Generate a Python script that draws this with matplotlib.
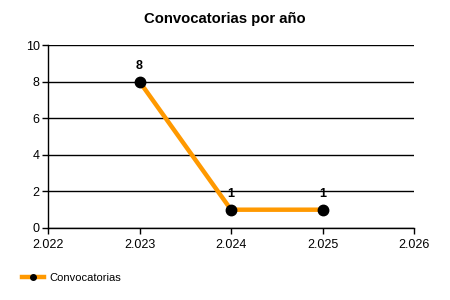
import matplotlib
matplotlib.use("Agg")
import matplotlib.pyplot as plt
from matplotlib.lines import Line2D

plt.rcParams['font.family'] = ['Liberation Sans', 'DejaVu Sans']

years = [2023, 2024, 2025]
values = [8, 1, 1]
x_ticks = [2022, 2023, 2024, 2025, 2026]
x_tick_labels = ["2.022", "2.023", "2.024", "2.025", "2.026"]
y_ticks = [0, 2, 4, 6, 8, 10]
title = "Convocatorias por año"
series_name = "Convocatorias"

fig = plt.figure(figsize=(4.5, 3), dpi=100)
ax = fig.add_axes([48/450, 1-228/300, (414-48)/450, (228-45)/300])

orange = "#FF9900"
ax.plot(years, values, color=orange, lw=3.2, solid_capstyle='butt', zorder=3)
ax.plot(years, values, 'o', color='black', ms=7.5, zorder=4)
for x, y in zip(years, values):
    ax.annotate(str(y), (x, y), xytext=(0, 7), textcoords='offset points',
                ha='center', va='bottom', fontsize=9, fontweight='bold')

ax.set_xlim(2022, 2026)
ax.set_ylim(0, 10)
ax.set_xticks(x_ticks)
ax.set_xticklabels(x_tick_labels)
ax.set_yticks(y_ticks)
ax.yaxis.grid(True, color='black', lw=1)
ax.set_axisbelow(True)
for s in ['top', 'right']:
    ax.spines[s].set_visible(False)
for s in ['left', 'bottom']:
    ax.spines[s].set_linewidth(1)
ax.tick_params(axis='both', labelsize=9, length=4, width=1, pad=2)
ax.tick_params(axis='x', pad=4)

fig.text(0.5, 1-19/300, title, ha='center', va='center', fontsize=10.7, fontweight='bold')

handle = Line2D([0], [0], color=orange, lw=3.2, marker='o', mfc='black', mec='black', ms=4)
fig.legend([handle], [series_name], loc='center left', bbox_to_anchor=(22/450, 1-278/300),
           frameon=False, fontsize=8, handlelength=2.0, handletextpad=0.45,
           borderaxespad=0, borderpad=0)

fig.savefig("out.png", dpi=100)
